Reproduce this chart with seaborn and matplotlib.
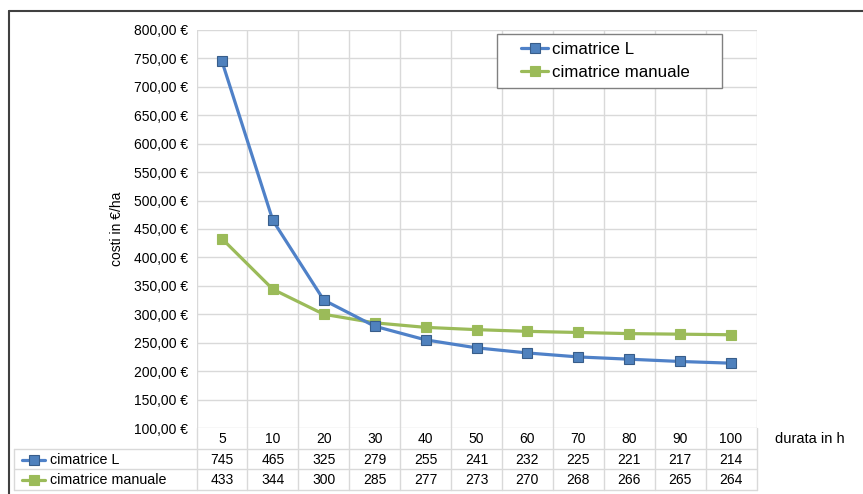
import matplotlib
matplotlib.use("Agg")
import matplotlib.pyplot as plt
from matplotlib.lines import Line2D
from matplotlib.patches import Rectangle
from matplotlib.ticker import MultipleLocator, FuncFormatter
import seaborn as sns
import pandas as pd
import numpy as np

durata = ["5", "10", "20", "30", "40", "50", "60", "70", "80", "90", "100"]
cimatrice_L = [745, 465, 325, 279, 255, 241, 232, 225, 221, 217, 214]
cimatrice_manuale = [433, 344, 300, 285, 277, 273, 270, 268, 266, 265, 264]
series_names = ["cimatrice L", "cimatrice manuale"]

sns.set_theme(style="white")
plt.rcParams["font.family"] = ["Liberation Sans", "DejaVu Sans"]

W, H = 863, 494
fig = plt.figure(figsize=(W / 100, H / 100), dpi=100)
fig.patch.set_facecolor("white")

x0, x1, ytop, ybot = 196.5, 756.5, 30, 428
ax = fig.add_axes([x0 / W, 1 - ybot / H, (x1 - x0) / W, (ybot - ytop) / H])
ax.set_facecolor("white")

blue_line, blue_fill, blue_edge = "#4F81C8", "#4F81BD", "#385D8A"
green_line, green_fill, green_edge = "#9BBB59", "#9BBB59", "#9BBB59"

df_L = pd.DataFrame({"durata": durata, "costo": cimatrice_L})
df_M = pd.DataFrame({"durata": durata, "costo": cimatrice_manuale})

sns.lineplot(data=df_L, x="durata", y="costo", ax=ax, color=blue_line, lw=2.3,
             marker="s", markersize=7, markerfacecolor=blue_fill, markeredgecolor=blue_edge,
             markeredgewidth=0.8, sort=False, label=series_names[0], zorder=4)
sns.lineplot(data=df_M, x="durata", y="costo", ax=ax, color=green_line, lw=2.3,
             marker="s", markersize=7, markerfacecolor=green_fill, markeredgecolor=green_edge,
             markeredgewidth=0.8, sort=False, label=series_names[1], zorder=3)

n = len(durata)
ax.set_xlim(-0.5, n - 0.5)
ax.set_ylim(100, 800)
ax.yaxis.set_major_locator(MultipleLocator(50))
ax.yaxis.set_major_formatter(FuncFormatter(lambda v, p: f"{v:,.2f}".replace(",", "X").replace(".", ",").replace("X", ".") + " €"))
ax.set_xticks(np.arange(-0.5, n, 1.0))
ax.set_xticklabels([])
ax.tick_params(axis="both", length=0)
ax.tick_params(axis="y", labelsize=10, pad=6, colors="black")
ax.grid(True, color="#D9D9D9", lw=1)
for s in ax.spines.values():
    s.set_visible(False)
ax.set_xlabel("")
ax.set_ylabel("costi in €/ha", fontsize=10, labelpad=7, color="black")

def fy(py):
    return 1 - py / H

def fx(px):
    return px / W

# legend: frame drawn separately to match the wide box
ax.add_patch(Rectangle((fx(497), fy(88)), (722 - 497) / W, (88 - 34) / H,
                       facecolor="white", edgecolor="#808080", lw=1.0, zorder=5,
                       transform=fig.transFigure, clip_on=False))
leg = ax.legend(loc="upper left", bbox_to_anchor=(fx(521), fy(42)), bbox_transform=fig.transFigure,
                borderaxespad=0, fontsize=12.2, frameon=False,
                handlelength=1.6, handletextpad=0.25,
                borderpad=0.0, labelspacing=0.48)
leg.set_zorder(6)
for t in leg.get_texts():
    t.set_color("black")

# Data table below the plot
tcol = "#D9D9D9"
table_left = 14
row_lines = [449, 469, 490]
for yl in row_lines:
    fig.add_artist(Line2D([fx(table_left), fx(x1)], [fy(yl), fy(yl)], color=tcol, lw=1))
fig.add_artist(Line2D([fx(table_left), fx(table_left)], [fy(449), fy(490)], color=tcol, lw=1))
step = (x1 - x0) / n
for i in range(n + 1):
    xp = x0 + i * step
    fig.add_artist(Line2D([fx(xp), fx(xp)], [fy(ybot), fy(490)], color=tcol, lw=1))

row_centers = [439, 459.5, 480]
for i, lab in enumerate(durata):
    xp = x0 + (i + 0.5) * step
    fig.text(fx(xp), fy(row_centers[0]), lab, ha="center", va="center", fontsize=10, color="black")
    fig.text(fx(xp), fy(row_centers[1]), str(cimatrice_L[i]), ha="center", va="center", fontsize=10, color="black")
    fig.text(fx(xp), fy(row_centers[2]), str(cimatrice_manuale[i]), ha="center", va="center", fontsize=10, color="black")

keys = [(blue_line, blue_fill, blue_edge), (green_line, green_fill, green_edge)]
for r, (name, (lc, fc, ec)) in enumerate(zip(series_names, keys)):
    yc = row_centers[r + 1]
    fig.add_artist(Line2D([fx(22), fx(45)], [fy(yc), fy(yc)], color=lc, lw=2.3))
    fig.add_artist(Line2D([fx(33.5)], [fy(yc)], marker="s", markersize=7, markerfacecolor=fc,
                          markeredgecolor=ec, markeredgewidth=0.8, lw=0))
    fig.text(fx(50), fy(yc), name, ha="left", va="center", fontsize=10.3, color="black")

fig.text(fx(775), fy(439), "durata in h", ha="left", va="center", fontsize=10.5, color="black")

# outer frame (top and left edges)
fcol = "#404040"
fig.add_artist(Line2D([fx(9), fx(W + 5)], [fy(11.5), fy(11.5)], color=fcol, lw=1.5))
fig.add_artist(Line2D([fx(9), fx(9)], [fy(11.5), fy(H + 5)], color=fcol, lw=1.5))

fig.savefig("out.png", dpi=100, facecolor="white")
